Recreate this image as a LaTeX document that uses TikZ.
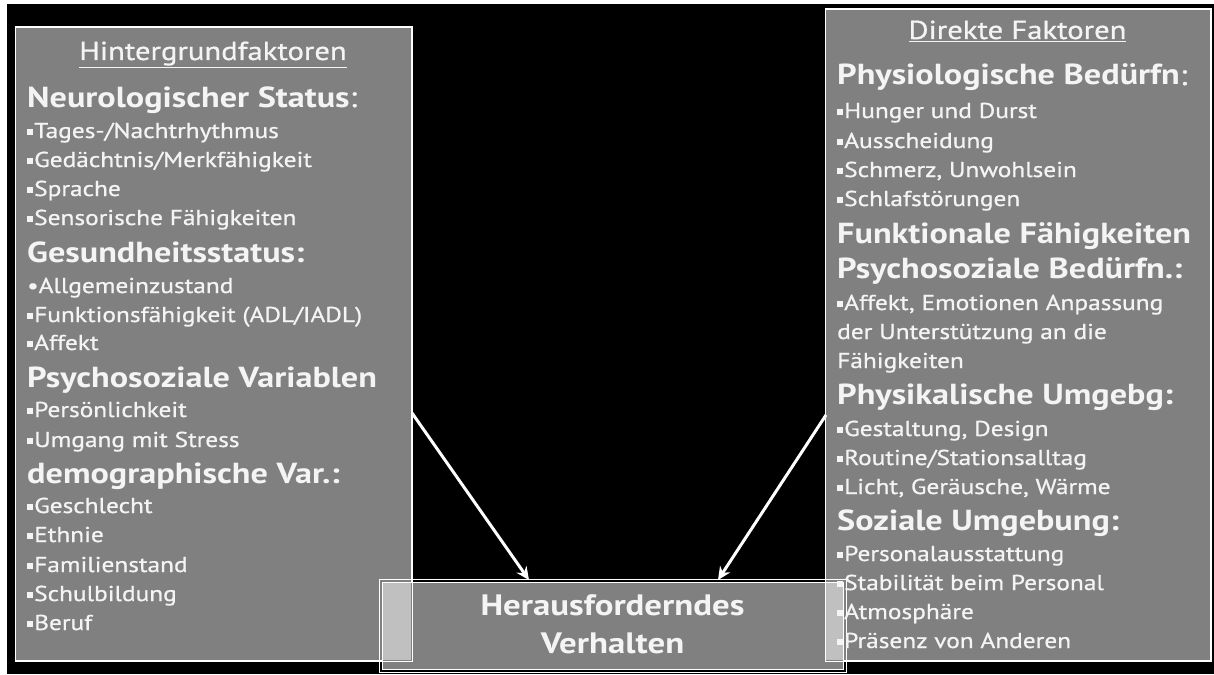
\documentclass[tikz,border=0pt]{standalone}
\usepackage{fontspec}
\setmainfont{PT Sans}[FakeStretch=1.18,UprightFeatures={FakeBold=0.8}]
\usetikzlibrary{arrows.meta}
\newcommand{\sq}{\rule[3pt]{6pt}{6pt}\hspace{1pt}}
\definecolor{boxgray}{HTML}{808080}
\definecolor{lightgray}{HTML}{C0C0C0}
\definecolor{txt}{HTML}{F4F4F4}
\begin{document}
\begin{tikzpicture}[x=1pt,y=-1pt,
  panel/.style={draw=white,line width=1pt,fill=boxgray,anchor=north west,inner sep=0pt},
  ttl/.style={anchor=base,inner sep=0pt,text=txt,font=\fontsize{26}{28}\selectfont},
  hd/.style={anchor=base west,inner sep=0pt,text=txt,font=\fontsize{29}{32}\selectfont\bfseries},
  it/.style={anchor=base west,inner sep=0pt,text=txt,font=\fontsize{21.5}{24}\selectfont},
  arr/.style={draw=white,line width=3pt,-{Stealth[length=13pt,width=12pt]}}]
\useasboundingbox (0,0) rectangle (1214,674);
\fill[white] (0,0) rectangle (1214,674);
\fill[black] (7,4) rectangle (1214,674);
% panels
\node[panel,minimum width=396pt,minimum height=633pt] (L) at (15,27) {};
\node[panel,minimum width=385pt,minimum height=651pt] (R) at (825,9) {};
\node[draw=white,line width=1pt,fill=boxgray,anchor=north west,inner sep=0pt,minimum width=461pt,minimum height=87pt] (C) at (382,582) {};
\fill[lightgray] (382.5,582.5) rectangle (410.5,659.5);
\fill[lightgray] (825.5,582.5) rectangle (842.5,659.5);
\draw[white,line width=1pt] (379,579) rectangle (846,672);
\draw[white,line width=1pt] (382,582) rectangle (843,669);
\draw[white,line width=1pt] (L.north west) rectangle (L.south east);
\draw[white,line width=1pt] (R.north west) rectangle (R.south east);
% center text
\node[anchor=base,inner sep=0pt,text=txt,font=\fontsize{29.5}{32}\selectfont\bfseries] (c1) at (612.5,615) {Herausforderndes};
\node[anchor=base,inner sep=0pt,text=txt,font=\fontsize{29.5}{32}\selectfont\bfseries] (c2) at (612.5,653) {Verhalten};
% left texts
\node[ttl] (lt) at (213,60) {\underline{Hintergrundfaktoren}};
\node[hd] (l1) at (27,107) {Neurologischer Status{\mdseries:}};
\node[it] (l2) at (27,138) {\sq Tages-/Nachtrhythmus};
\node[it] (l3) at (27,167) {\sq Gedächtnis/Merkfähigkeit};
\node[it] (l4) at (27,196) {\sq Sprache};
\node[it] (l5) at (27,225) {\sq Sensorische Fähigkeiten};
\node[hd] (l6) at (27,262) {Gesundheitsstatus:};
\node[it] (l7) at (27,293) {•Allgemeinzustand};
\node[it] (l8) at (27,322) {\sq Funktionsfähigkeit (ADL/IADL)};
\node[it] (l9) at (27,350) {\sq Affekt};
\node[hd] (l10) at (27,387) {Psychosoziale Variablen};
\node[it] (l11) at (27,417) {\sq Persönlichkeit};
\node[it] (l12) at (27,447) {\sq Umgang mit Stress};
\node[hd] (l13) at (27,483) {demographische Var.:};
\node[it] (l14) at (27,513) {\sq Geschlecht};
\node[it] (l15) at (27,542) {\sq Ethnie};
\node[it] (l16) at (27,572) {\sq Familienstand};
\node[it] (l17) at (27,601) {\sq Schulbildung};
\node[it] (l18) at (27,630) {\sq Beruf};
% right texts
\node[ttl] (rt) at (1017.5,39) {\underline{Direkte Faktoren}};
\node[hd] (r1) at (837,85) {Physiologische Bedürfn{\mdseries:}};
\node[it] (r2) at (837,118) {\sq Hunger und Durst};
\node[it] (r3) at (837,148) {\sq Ausscheidung};
\node[it] (r4) at (837,177) {\sq Schmerz, Unwohlsein};
\node[it] (r5) at (837,206) {\sq Schlafstörungen};
\node[hd] (r6) at (837,243) {Funktionale Fähigkeiten};
\node[hd] (r7) at (837,278) {Psychosoziale Bedürfn.:};
\node[it] (r8) at (837,310) {\sq Affekt, Emotionen Anpassung};
\node[it] (r9) at (837,339) {der Unterstützung an die};
\node[it] (r10) at (837,368) {Fähigkeiten};
\node[hd] (r11) at (837,404) {Physikalische Umgebg:};
\node[it] (r12) at (837,436) {\sq Gestaltung, Design};
\node[it] (r13) at (837,465) {\sq Routine/Stationsalltag};
\node[it] (r14) at (837,494) {\sq Licht, Geräusche, Wärme};
\node[hd] (r15) at (837,530) {Soziale Umgebung:};
\node[it] (r16) at (837,561) {\sq Personalausstattung};
\node[it] (r17) at (837,590) {\sq Stabilität beim Personal};
\node[it] (r18) at (837,619) {\sq Atmosphäre};
\node[it] (r19) at (837,648) {\sq Präsenz von Anderen};
% arrows
\coordinate (aL) at (412,413);
\coordinate (aLt) at (529,580);
\coordinate (aR) at (826,415);
\coordinate (aRt) at (718,580);
\draw[arr] (aL) -- (aLt);
\draw[arr] (aR) -- (aRt);
\end{tikzpicture}
\end{document}
